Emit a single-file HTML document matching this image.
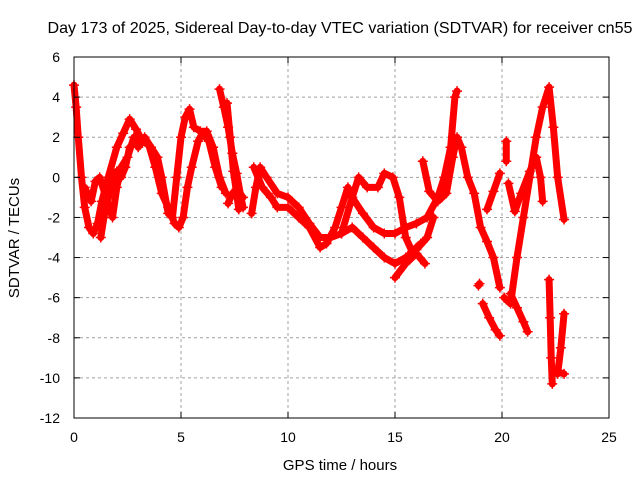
<!DOCTYPE html>
<html><head><meta charset="utf-8"><style>
body{margin:0;background:#fff}
svg{display:block;font-family:"Liberation Sans",sans-serif}
</style></head><body>
<svg id="chart" width="640" height="480" viewBox="0 0 640 480">
<rect width="640" height="480" fill="#fff"/>
<g id="grid"></g><g id="marks"></g><g id="axes"></g>
<text x="340" y="33" text-anchor="middle" font-size="16" textLength="585" lengthAdjust="spacingAndGlyphs">Day 173 of 2025, Sidereal Day-to-day VTEC variation (SDTVAR) for receiver cn55</text>
<text x="340" y="470" text-anchor="middle" font-size="15">GPS time / hours</text>
<text transform="translate(19,238) rotate(-90)" text-anchor="middle" font-size="15">SDTVAR / TECUs</text>
</svg>
<script>
const xTicks=[0,5,10,15,20,25];
const yTicks=[6,4,2,0,-2,-4,-6,-8,-10,-12];
const t1=[[0,4.6],[0.1,3.5],[0.2,2],[0.35,0],[0.5,-1.5],[0.7,-2.5],[0.9,-2.8],[1.1,-2.3],[1.3,-1.2],[1.6,0],[2.0,1.5],[2.3,2.2],[2.6,2.9],[2.9,2.4],[3.2,1.8],[3.5,1.6],[3.8,0.5],[4.1,-0.8],[4.4,-1.5],[4.7,-2.3],[4.9,-2.5],[5.1,-2],[5.3,-0.5],[5.5,0.5],[5.8,1.8],[6.0,2.2],[6.3,1.8],[6.6,0.5],[6.9,-0.5]];
const t2=[[0.5,-0.5],[0.8,-1.2],[1.0,-0.2],[1.2,0],[1.5,-1],[1.8,-2],[2.0,-0.5],[2.2,0.5],[2.5,1],[2.8,2],[3.0,1.5],[3.3,2],[3.6,1.5],[3.9,1],[4.1,0],[4.4,-1.8],[4.6,-2],[4.8,0],[5.0,2],[5.2,3],[5.4,3.4],[5.6,2.5],[5.9,2.3],[6.2,2.3],[6.5,1.5],[6.8,0],[7.1,-0.8]];
const t3=[[1.25,-3],[1.4,-2],[1.6,-1],[1.8,0],[2.0,0.3],[2.2,0],[2.4,0.5],[2.6,1.5]];
const t4=[[6.8,4.4],[7.0,3.5],[7.2,2.5],[7.4,1.2],[7.6,0.2],[7.8,-1],[7.9,-1.5]];
const t4b=[[7.15,3.7],[7.3,2],[7.45,0.3],[7.6,-0.8],[7.7,-1.6]];
const t4c=[[7.2,-1.3],[7.4,-0.8],[7.6,-0.6],[7.9,-1]];
const t5=[[8.3,-1.8],[8.5,-0.5],[8.7,0.5],[9.0,0],[9.5,-0.8],[10,-1],[10.5,-1.5],[11,-2.3],[11.5,-3],[12,-3],[12.5,-2.8],[13,-2.5],[13.5,-3],[14,-3.5],[14.5,-4],[15,-4.3],[15.5,-4],[16,-3.6],[16.5,-3],[16.8,-2]];
const t6=[[8.4,0.5],[8.8,-0.5],[9.2,-1],[9.5,-1.5],[10,-1.5],[10.5,-2],[11,-2.5],[11.5,-3.5],[11.8,-3.3],[12.2,-2.5],[12.5,-1.5],[12.8,-0.5],[13,-1],[13.5,-1.8],[14,-2.5],[14.5,-2.8],[15,-2.8],[15.5,-2.5],[16,-2.3],[16.5,-2],[17,-1],[17.3,0],[17.6,1.5],[17.8,4],[17.9,4.3]];
const t7=[[12.5,-2.8],[13,-1],[13.3,0],[13.7,-0.5],[14.2,-0.5],[14.5,0.2],[14.9,0],[15.2,-1],[15.5,-3],[15.8,-3.7],[16.2,-3.3]];
const t7b=[[15,-5],[15.5,-4.3],[16,-3.8],[16.4,-4.3]];
const t8=[[16.3,0.8],[16.6,-0.7],[17,-1.2],[17.4,-0.8],[17.7,1],[17.9,2],[18.1,1.5],[18.4,0],[18.7,-0.8],[19,-2.5],[19.3,-3.2],[19.6,-4],[19.9,-5.5]];
const t9=[[19.1,-6.3],[19.4,-7],[19.7,-7.6],[19.9,-7.9]];
const t10=[[19.3,-1.6],[19.6,-0.7],[19.9,0.2]];
const t11=[[20.2,1.8],[20.2,0.8]];
const t12=[[20.3,-0.3],[20.6,-1.7],[20.9,-0.8],[21.3,0.3],[21.6,1],[21.8,0],[21.9,-1.2]];
const t13=[[20.1,-6],[20.4,-6.3],[20.7,-4],[21.0,-2],[21.3,0],[21.6,2],[21.9,3.5],[22.2,4.5],[22.4,2.5],[22.6,0],[22.9,-2.1]];
const t14=[[20.4,-5.8],[20.7,-6.5],[21.0,-7.2],[21.2,-7.7]];
const t15=[[22.2,-5.1],[22.25,-7],[22.3,-9],[22.35,-10.3]];
const t16=[[22.6,-9.8],[22.75,-8.5],[22.9,-6.8]];
const t17=[[22.6,-9.7],[22.9,-9.8]];
const dot=[[18.9,-5.4],[18.95,-5.3]];
const tracks=[t1,t2,t3,t4,t4b,t4c,t5,t6,t7,t7b,t8,t9,t10,t11,t12,t13,t14,t15,t16,t17,dot];
const X0=74,X1=609,Y0=418,Y1=57;
const xs=h=>X0+(h-0)/(25-0)*(X1-X0);
const ys=v=>Y0-(v-(-12))/(6-(-12))*(Y0-Y1);
const NS='http://www.w3.org/2000/svg';
function mk(tag,at,parent){const e=document.createElementNS(NS,tag);for(const k in at)e.setAttribute(k,at[k]);parent.appendChild(e);return e;}
const grid=document.getElementById('grid'),axes=document.getElementById('axes'),marks=document.getElementById('marks');
xTicks.forEach(t=>{const x=xs(t);
 if(t>0&&t<25){const g=mk('line',{x1:x,x2:x,y1:Y1,y2:Y0,stroke:'#a0a0a0','stroke-dasharray':'3,3'},grid);}
 mk('line',{x1:x,x2:x,y1:Y0,y2:Y0-6,stroke:'#000'},axes);mk('line',{x1:x,x2:x,y1:Y1,y2:Y1+6,stroke:'#000'},axes);
 const l=mk('text',{x:x,y:Y0+24,'text-anchor':'middle','font-size':'14'},axes);l.textContent=t;
 });
yTicks.forEach(t=>{const y=ys(t);
 if(t>-12&&t<6){const g=mk('line',{x1:X0,x2:X1,y1:y,y2:y,stroke:'#a0a0a0','stroke-dasharray':'3,3'},grid);}
 mk('line',{x1:X0,x2:X0+6,y1:y,y2:y,stroke:'#000'},axes);mk('line',{x1:X1,x2:X1-6,y1:y,y2:y,stroke:'#000'},axes);
 const l=mk('text',{x:X0-14,y:y+5,'text-anchor':'end','font-size':'14'},axes);l.textContent=t;
 });
const fr=mk('rect',{x:X0,y:Y1,width:X1-X0,height:Y0-Y1,fill:'none',stroke:'#000'},axes);

tracks.forEach(tr=>{
 const p=mk('polyline',{points:tr.map(d=>xs(d[0])+','+ys(d[1])).join(' '),fill:'none',stroke:'#ff0000','stroke-width':7,'stroke-linejoin':'round','stroke-linecap':'round'},marks);
 
 tr.forEach(d=>{const x=xs(d[0]),y=ys(d[1]);
  const m=mk('path',{d:`M${x-5},${y}H${x+5}M${x},${y-5}V${y+5}`,stroke:'#ff0000','stroke-width':1.5},marks);
  });
});
</script>
</body></html>
